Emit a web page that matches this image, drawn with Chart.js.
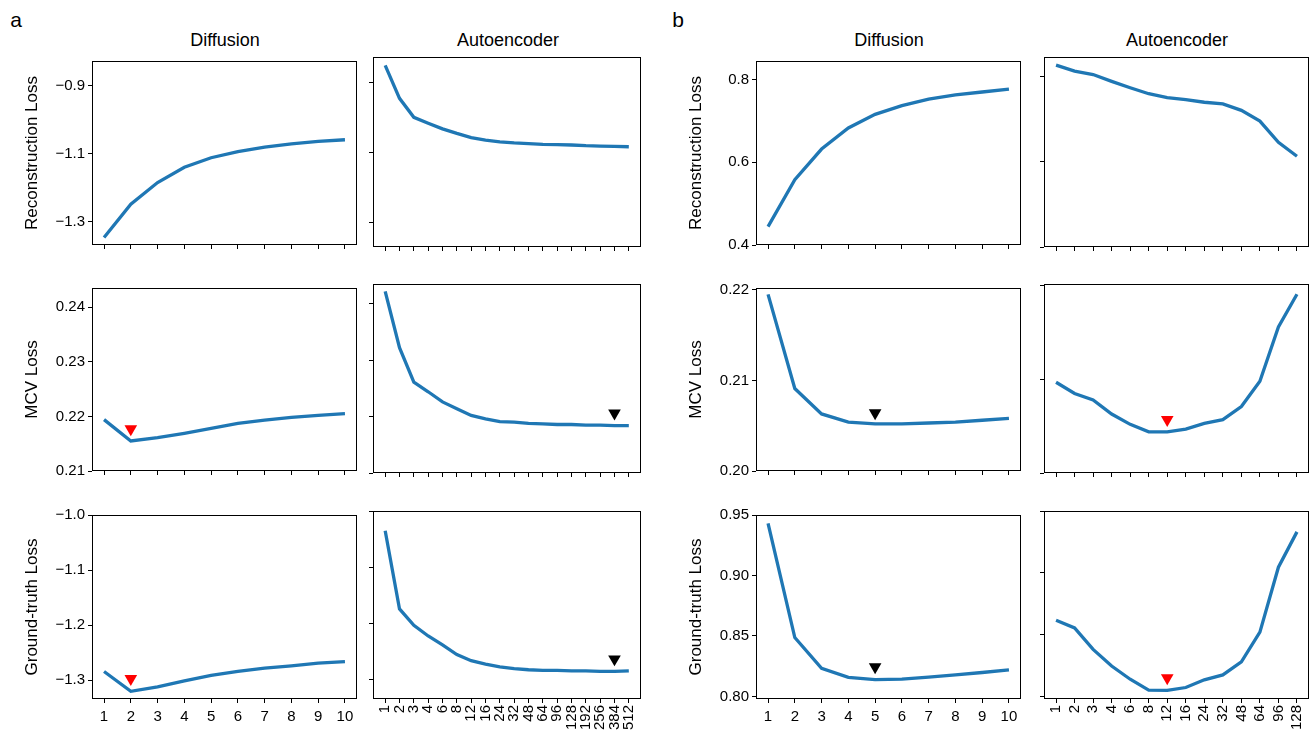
<!DOCTYPE html>
<html>
<head>
<meta charset="utf-8">
<script src="https://cdn.jsdelivr.net/npm/chart.js@4.4.1/dist/chart.umd.min.js"></script>
<style>
  body { margin: 0; background: #fff; font-family: 'Liberation Sans', Arial, sans-serif; }
  #fig { position: relative; width: 1311px; height: 734px; overflow: hidden; }
  #fig canvas { position: absolute; }
  .txt { position: absolute; color: #000; white-space: nowrap; transform: translate(-50%, -50%); }
</style>
</head>
<body>
<div id="fig">
  <div class="txt" style="left:16px;top:20px;font-size:21px">a</div>
  <div class="txt" style="left:678px;top:20px;font-size:21px">b</div>
  <div class="txt" style="left:225px;top:40px;font-size:18px">Diffusion</div>
  <div class="txt" style="left:508px;top:40px;font-size:18px">Autoencoder</div>
  <div class="txt" style="left:889px;top:40px;font-size:18px">Diffusion</div>
  <div class="txt" style="left:1177px;top:40px;font-size:18px">Autoencoder</div>
</div>
<script>
// x categories
const diffSteps = [1, 2, 3, 4, 5, 6, 7, 8, 9, 10];
const aeDimsA = ['1', '2', '3', '4', '6', '8', '12', '16', '24', '32', '48', '64', '96', '128', '192', '256', '384', '512'];
const aeDimsB = ['1', '2', '3', '4', '6', '8', '12', '16', '24', '32', '48', '64', '96', '128'];

// panel a
const aRecDiff = [-1.347, -1.249, -1.185, -1.140, -1.112, -1.094, -1.081, -1.071, -1.064, -1.059];
const aRecAe = [-0.851, -0.945, -0.999, -1.016, -1.032, -1.045, -1.057, -1.064, -1.069, -1.072, -1.074, -1.076, -1.077, -1.078, -1.080, -1.081, -1.082, -1.083];
const aMcvDiff = [0.2194, 0.2155, 0.2161, 0.2169, 0.2178, 0.2187, 0.2193, 0.2198, 0.2202, 0.2205];
const aMcvAe = [0.2422, 0.2322, 0.2261, 0.2244, 0.2226, 0.2214, 0.2202, 0.2196, 0.2191, 0.2190, 0.2188, 0.2187, 0.2186, 0.2186, 0.2185, 0.2185, 0.2184, 0.2184];
const aGtDiff = [-1.284, -1.320, -1.312, -1.301, -1.291, -1.284, -1.278, -1.274, -1.269, -1.266];
const aGtAe = [-1.035, -1.174, -1.203, -1.222, -1.238, -1.255, -1.266, -1.272, -1.277, -1.280, -1.282, -1.283, -1.283, -1.284, -1.284, -1.285, -1.285, -1.284];

// panel b
const bRecDiff = [0.4445, 0.558, 0.632, 0.683, 0.716, 0.737, 0.753, 0.763, 0.770, 0.777];
const bRecAe = [0.826, 0.812, 0.804, 0.788, 0.773, 0.759, 0.750, 0.745, 0.739, 0.735, 0.720, 0.695, 0.645, 0.6125];
const bMcvDiff = [0.2195, 0.2091, 0.2063, 0.2054, 0.2052, 0.2052, 0.2053, 0.2054, 0.2056, 0.2058];
const bMcvAe = [0.2097, 0.2085, 0.2078, 0.2063, 0.2052, 0.2044, 0.2044, 0.2047, 0.2053, 0.2057, 0.2071, 0.2098, 0.2156, 0.2191];
const bGtDiff = [0.943, 0.8487, 0.8233, 0.8158, 0.8139, 0.8144, 0.8160, 0.8179, 0.8198, 0.8220];
const bGtAe = [0.8616, 0.8554, 0.8380, 0.8246, 0.8139, 0.8051, 0.8048, 0.8072, 0.8134, 0.8174, 0.8279, 0.8520, 0.9045, 0.9331];

// best-setting markers: [x index / step, y]
const aMcvDiffMark = [2, 0.2177];
const aMcvAeMark = [16, 0.2206];
const aGtDiffMark = [2, -1.297];
const aGtAeMark = [16, -1.263];
const bMcvDiffMark = [5, 0.2064];
const bMcvAeMark = [6, 0.2057];
const bGtDiffMark = [5, 0.8244];
const bGtAeMark = [6, 0.8150];

// y tick values
const aRecTicks = [-1.3, -1.1, -0.9];
const aMcvTicks = [0.21, 0.22, 0.23, 0.24];
const aGtTicks = [-1.3, -1.2, -1.1, -1.0];
const bRecTicks = [0.4, 0.6, 0.8];
const bMcvTicks = [0.20, 0.21, 0.22];
const bGtTicks = [0.80, 0.85, 0.90, 0.95];

const FONT = "'Liberation Sans', Arial, sans-serif";
const BLUE = '#1f77b4';

// axes boxes in page pixels
const cols = { aD: [92, 357], aA: [373, 641], bD: [756, 1021], bA: [1044, 1309] };
const rows = [[57, 247], [284, 473], [511, 699]];

const frame = {
  id: 'frame',
  afterDatasetsDraw(chart) {
    const a = chart.chartArea, c = chart.ctx;
    c.save();
    c.strokeStyle = '#000';
    c.lineWidth = 1;
    c.strokeRect(Math.round(a.left) + 0.5, Math.round(a.top) + 0.5, Math.round(a.right - a.left) - 1, Math.round(a.bottom - a.top) - 1);
    c.restore();
  }
};

function fmt(v, dec) {
  return v.toFixed(dec).replace('-', '\u2212');
}

function panel(p) {
  const [l, r] = cols[p.col];
  const [t, b] = rows[p.row];
  const isDiff = p.col.endsWith('D');
  const padL = isDiff ? 75 : 10;
  const padR = 12, padT = 8;
  const padB = p.row < 2 ? 10 : (isDiff ? 32 : 35);
  const W = (r - l) + padL + padR, H = (b - t) + padT + padB;

  const cv = document.createElement('canvas');
  cv.width = W; cv.height = H;
  cv.style.left = (l - padL) + 'px';
  cv.style.top = (t - padT) + 'px';
  document.getElementById('fig').appendChild(cv);

  const xs = isDiff ? diffSteps : p.cats.map((_, i) => i);
  const n = xs.length;
  const span = xs[n - 1] - xs[0];
  const datasets = [{
    data: xs.map((x, i) => ({ x: x, y: p.ys[i] })),
    borderColor: BLUE, borderWidth: 3.3, pointRadius: 0, tension: 0, fill: false
  }];
  if (p.mark) {
    datasets.push({
      data: [{ x: p.mark[0], y: p.mark[1] }],
      showLine: false, pointStyle: 'triangle', pointRotation: 180, pointRadius: 7.3,
      pointBackgroundColor: p.color, pointBorderColor: p.color, pointBorderWidth: 0
    });
  }
  const showX = p.row === 2;
  new Chart(cv, {
    type: 'line',
    data: { datasets: datasets },
    options: {
      responsive: false, animation: false, events: [],
      layout: { padding: { top: padT, right: padR, left: 0, bottom: 0 } },
      plugins: { legend: { display: false }, tooltip: { enabled: false } },
      scales: {
        x: {
          type: 'linear',
          min: xs[0] - 0.05 * span, max: xs[n - 1] + 0.05 * span,
          afterBuildTicks: s => { s.ticks = xs.map(v => ({ value: v })); },
          afterFit: s => { s.height = padB; },
          border: { display: false },
          grid: { drawOnChartArea: false, drawTicks: true, tickLength: 4, color: '#000' },
          ticks: {
            display: showX, autoSkip: false,
            minRotation: isDiff ? 0 : 90, maxRotation: isDiff ? 0 : 90,
            padding: isDiff ? 5 : 2, color: '#000', font: { family: FONT, size: 15 },
            callback: v => isDiff ? String(v) : p.cats[v]
          }
        },
        y: {
          type: 'linear', min: p.ymin, max: p.ymax,
          afterBuildTicks: s => { s.ticks = p.yticks.map(v => ({ value: v })); },
          afterFit: s => { s.width = padL; },
          border: { display: false },
          grid: { drawOnChartArea: false, drawTicks: true, tickLength: 4, color: '#000' },
          ticks: {
            display: isDiff, padding: 3, color: '#000', font: { family: FONT, size: 15 },
            callback: v => fmt(v, p.dec)
          },
          title: {
            display: isDiff, text: p.title, color: '#000',
            font: { family: FONT, size: 17 }, padding: { top: 5, bottom: 0 }
          }
        }
      }
    },
    plugins: [frame]
  });
}

// panel a
panel({ col: 'aD', row: 0, ys: aRecDiff, yticks: aRecTicks, dec: 1, ymin: -1.369, ymax: -0.827, title: 'Reconstruction Loss' });
panel({ col: 'aA', row: 0, cats: aeDimsA, ys: aRecAe, yticks: aRecTicks, dec: 1, ymin: -1.369, ymax: -0.827 });
panel({ col: 'aD', row: 1, ys: aMcvDiff, yticks: aMcvTicks, dec: 2, ymin: 0.21, ymax: 0.2435, title: 'MCV Loss', mark: aMcvDiffMark, color: '#ff0000' });
panel({ col: 'aA', row: 1, cats: aeDimsA, ys: aMcvAe, yticks: aMcvTicks, dec: 2, ymin: 0.21, ymax: 0.2435, mark: aMcvAeMark, color: '#000' });
panel({ col: 'aD', row: 2, ys: aGtDiff, yticks: aGtTicks, dec: 1, ymin: -1.334, ymax: -1.0, title: 'Ground-truth Loss', mark: aGtDiffMark, color: '#ff0000' });
panel({ col: 'aA', row: 2, cats: aeDimsA, ys: aGtAe, yticks: aGtTicks, dec: 1, ymin: -1.334, ymax: -1.0, mark: aGtAeMark, color: '#000' });

// panel b
panel({ col: 'bD', row: 0, ys: bRecDiff, yticks: bRecTicks, dec: 1, ymin: 0.4, ymax: 0.845, title: 'Reconstruction Loss' });
panel({ col: 'bA', row: 0, cats: aeDimsB, ys: bRecAe, yticks: bRecTicks, dec: 1, ymin: 0.4, ymax: 0.845 });
panel({ col: 'bD', row: 1, ys: bMcvDiff, yticks: bMcvTicks, dec: 2, ymin: 0.20, ymax: 0.2202, title: 'MCV Loss', mark: bMcvDiffMark, color: '#000' });
panel({ col: 'bA', row: 1, cats: aeDimsB, ys: bMcvAe, yticks: bMcvTicks, dec: 2, ymin: 0.20, ymax: 0.2202, mark: bMcvAeMark, color: '#ff0000' });
panel({ col: 'bD', row: 2, ys: bGtDiff, yticks: bGtTicks, dec: 2, ymin: 0.7979, ymax: 0.95, title: 'Ground-truth Loss', mark: bGtDiffMark, color: '#000' });
panel({ col: 'bA', row: 2, cats: aeDimsB, ys: bGtAe, yticks: bGtTicks, dec: 2, ymin: 0.7979, ymax: 0.95, mark: bGtAeMark, color: '#ff0000' });
</script>
</body>
</html>
